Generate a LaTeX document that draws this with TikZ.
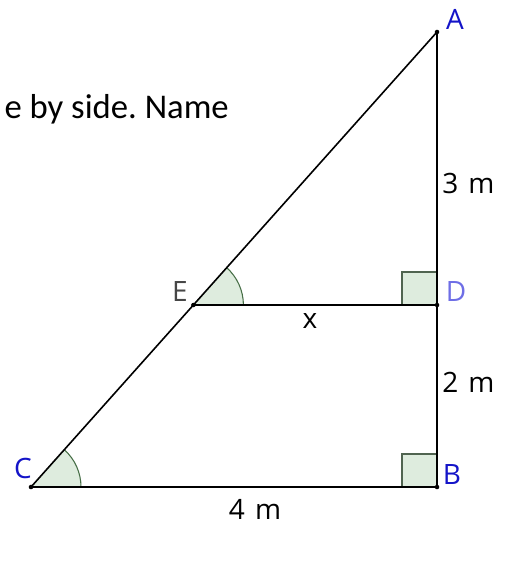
\documentclass[tikz,border=0pt]{standalone}
\usepackage{fontspec}
\setmainfont{Carlito}
\newfontfamily\lblfont{Open Sans}
\usetikzlibrary{calc}
\definecolor{anglefill}{RGB}{222,236,222}
\definecolor{anglestroke}{RGB}{70,110,70}
\definecolor{sqstroke}{RGB}{80,100,80}
\definecolor{ptblue}{RGB}{20,20,200}
\definecolor{dblue}{RGB}{110,110,230}
\definecolor{egray}{RGB}{70,70,70}
\tikzset{
  seg/.style={line width=1.2pt, black},
  anglearc/.style={draw=anglestroke, line width=0.8pt},
  rightmark/.style={fill=anglefill, draw=sqstroke, line width=0.8pt},
  ptlabel/.style={font=\lblfont\fontsize{21}{24}\selectfont, inner sep=0pt},
  meas/.style={font=\lblfont\fontsize{21}{24}\selectfont, inner sep=0pt, text=black},
  dot/.style={circle, fill=black, inner sep=0pt, minimum size=3.4pt}
}
\begin{document}
\begin{tikzpicture}[x=0.75pt,y=-0.75pt]
\useasboundingbox (0,0) rectangle (507,581);
% angle marks (under the lines)
\fill[anglefill] (31,487) -- ++(50,0) arc[start angle=0,end angle=-48.26,radius=50] -- cycle;
\draw[anglearc] (81,487) arc[start angle=0,end angle=-48.26,radius=50];
\fill[anglefill] (193.4,305) -- ++(50,0) arc[start angle=0,end angle=-48.26,radius=50] -- cycle;
\draw[anglearc] (243.4,305) arc[start angle=0,end angle=-48.26,radius=50];
% right-angle marks
\draw[rightmark] (402,272) rectangle (437,305);
\draw[rightmark] (402,454) rectangle (437,487);
% points
\node[dot] (A) at (437,32) {};
\node[dot] (D) at (437,305) {};
\node[dot] (B) at (437,487) {};
\node[dot] (C) at (31,487) {};
\node[dot] (E) at (193.4,305) {};
% segments
\draw[seg] (C.center) -- (A.center);
\draw[seg] (A.center) -- (D.center) -- (B.center);
\draw[seg] (C.center) -- (B.center);
\draw[seg] (E.center) -- (D.center);
% point labels
\node[ptlabel, text=ptblue] (lA) at (455,19) {A};
\node[ptlabel, text=egray] (lE) at (180,292) {E};
\node[ptlabel, text=dblue] (lD) at (456,292) {D};
\node[ptlabel, text=ptblue] (lB) at (452,475) {B};
\node[ptlabel, text=ptblue] (lC) at (23,468) {C};
% measures
\node[meas, anchor=west] (m3) at (442,183) {3\hspace{0.36em}m};
\node[meas, anchor=west] (m2) at (442,382) {2\hspace{0.36em}m};
\node[meas] (m4) at (255,509) {4\hspace{0.36em}m};
\node[meas] (mx) at (310,321) {x};
% text
\node[anchor=base east, inner sep=0pt, font=\fontsize{26}{30}\selectfont] (txt) at (229,118) {\frenchspacing e by side. Name};
\end{tikzpicture}
\end{document}
